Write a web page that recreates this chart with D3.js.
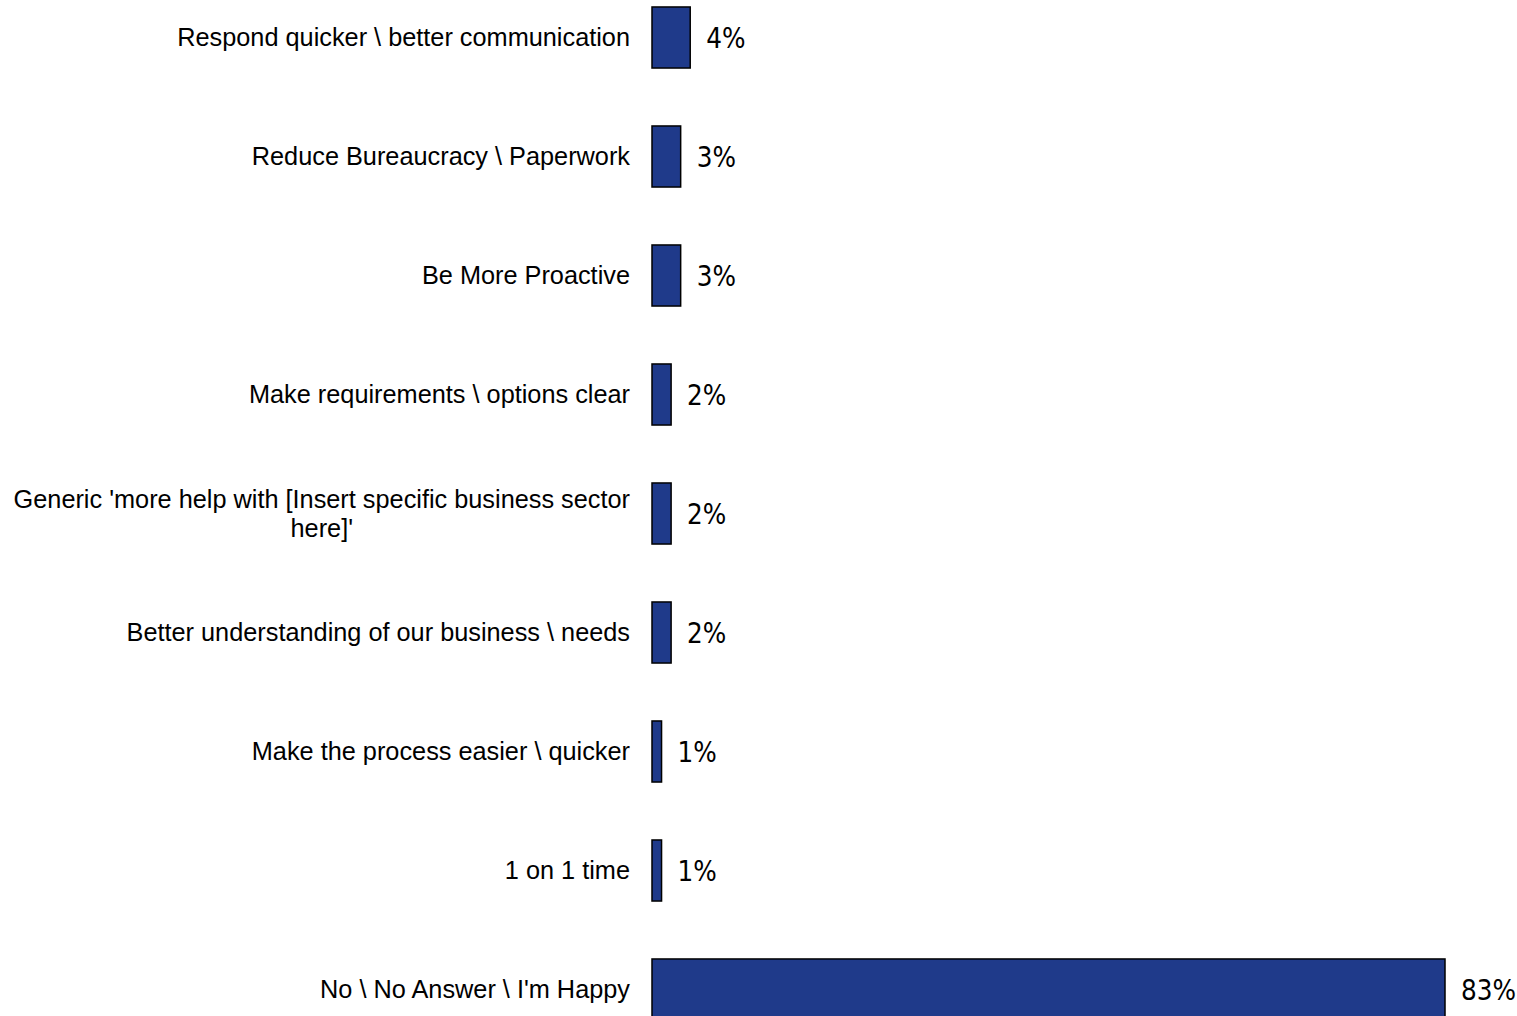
<!DOCTYPE html>
<html>
<head>
<meta charset="utf-8">
<script src="https://cdn.jsdelivr.net/npm/d3@7"></script>
<style>
html,body{margin:0;padding:0;background:#fff;}
svg{display:block;}
</style>
</head>
<body>
<svg id="chart" width="1517" height="1016"></svg>
<script>
const categories = [
  "Respond quicker \\ better communication",
  "Reduce Bureaucracy \\ Paperwork",
  "Be More Proactive",
  "Make requirements \\ options clear",
  "Generic 'more help with [Insert specific business sector here]'",
  "Better understanding of our business \\ needs",
  "Make the process easier \\ quicker",
  "1 on 1 time",
  "No \\ No Answer \\ I'm Happy"
];
const values = [4, 3, 3, 2, 2, 2, 1, 1, 83];
const valueLabels = ["4%", "3%", "3%", "2%", "2%", "2%", "1%", "1%", "83%"];

const svg = d3.select("#chart");
const x = d3.scaleLinear().domain([0, 83]).range([652, 1445]);
const y = d3.scaleBand().domain(categories).range([-22, 1049]).paddingInner(0.487).paddingOuter(0.2435);

const data = categories.map((c, i) => ({c, v: values[i], l: valueLabels[i]}));

svg.selectAll("rect.bar").data(data).join("rect")
  .attr("class", "bar")
  .attr("x", x(0))
  .attr("y", d => y(d.c))
  .attr("width", d => x(d.v) - x(0))
  .attr("height", y.bandwidth())
  .attr("fill", "#1f3a8a")
  .attr("stroke", "#000")
  .attr("stroke-width", 1.5);

svg.selectAll("text.val").data(data).join("text")
  .attr("class", "val")
  .attr("x", d => x(d.v) + 16)
  .attr("y", d => y(d.c) + y.bandwidth() / 2)
  .attr("dy", "0.37em")
  .attr("font-family", "'DejaVu Sans Condensed', 'DejaVu Sans', sans-serif")
  .attr("font-stretch", "condensed")
  .attr("font-weight", 200)
  .attr("font-size", 27.5)
  .attr("fill", "#000")
  .text(d => d.l);

const labels = svg.selectAll("text.cat").data(data).join("text")
  .attr("class", "cat")
  .attr("text-anchor", "end")
  .attr("font-family", "'Liberation Sans', Arial, sans-serif")
  .attr("font-size", 25.3)
  .attr("fill", "#000");

const maxW = 624, lineH = 29, anchorX = 630;
labels.each(function(d) {
  const t = d3.select(this);
  const words = d.c.split(" ");
  let lines = [], cur = [];
  const probe = t.append("tspan");
  words.forEach(w => {
    const test = cur.concat([w]).join(" ");
    probe.text(test);
    if (probe.node().getComputedTextLength() > maxW && cur.length) {
      lines.push(cur.join(" "));
      cur = [w];
    } else cur.push(w);
  });
  lines.push(cur.join(" "));
  probe.remove();
  const cy = y(d.c) + y.bandwidth() / 2;
  const n = lines.length;
  lines.forEach((ln, i) => {
    t.append("tspan")
      .attr("x", anchorX)
      .attr("y", cy + (i - (n - 1) / 2) * lineH)
      .attr("dy", "0.35em")
      .text(ln);
  });
  if (n > 1) {
    const first = t.select("tspan").node();
    const w0 = first.getComputedTextLength();
    const center = anchorX - w0 / 2;
    t.selectAll("tspan").filter((_, i) => i > 0)
      .attr("text-anchor", "middle").attr("x", center);
  }
});
</script>
</body>
</html>
